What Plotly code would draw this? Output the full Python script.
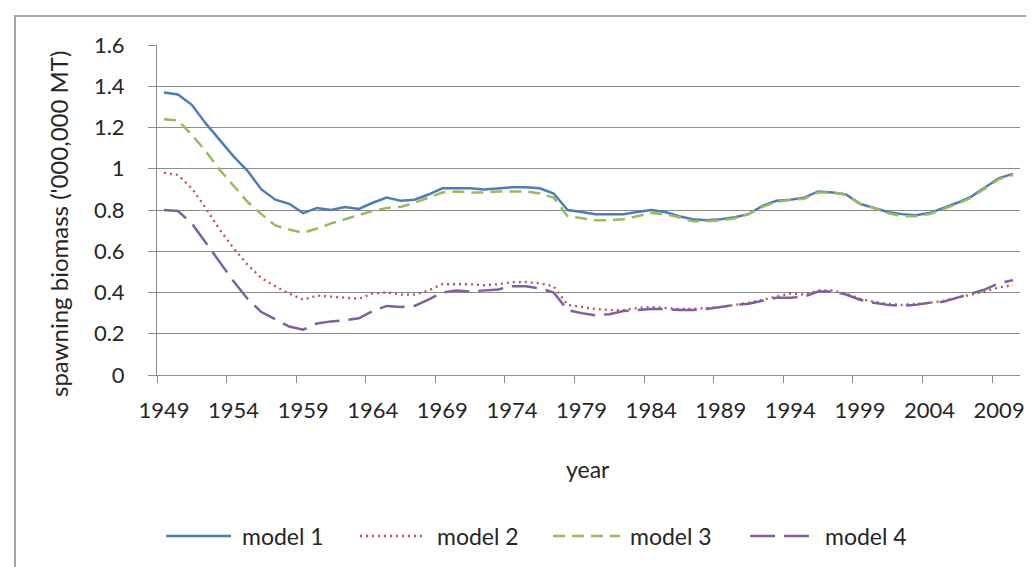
import plotly.graph_objects as go

years = list(range(1949, 2011))

model1 = [1.37, 1.36, 1.31, 1.22, 1.14, 1.06, 0.99, 0.90, 0.85, 0.83,
          0.785, 0.81, 0.80, 0.815, 0.805, 0.835, 0.86, 0.845, 0.85, 0.875,
          0.905, 0.905, 0.905, 0.90, 0.905, 0.91, 0.91, 0.905, 0.88, 0.80,
          0.79, 0.78, 0.78, 0.78, 0.79, 0.80, 0.79, 0.77, 0.755, 0.75,
          0.755, 0.765, 0.78, 0.82, 0.845, 0.85, 0.86, 0.89, 0.885, 0.875,
          0.83, 0.81, 0.79, 0.78, 0.775, 0.785, 0.81, 0.835, 0.865, 0.91,
          0.955, 0.975]

model2 = [0.98, 0.97, 0.905, 0.81, 0.705, 0.615, 0.535, 0.47, 0.43, 0.395,
          0.365, 0.385, 0.38, 0.375, 0.37, 0.395, 0.40, 0.39, 0.39, 0.41,
          0.44, 0.44, 0.44, 0.435, 0.44, 0.45, 0.45, 0.445, 0.43, 0.34,
          0.33, 0.32, 0.315, 0.315, 0.325, 0.33, 0.325, 0.32, 0.32, 0.325,
          0.33, 0.34, 0.35, 0.365, 0.38, 0.395, 0.39, 0.41, 0.41, 0.395,
          0.37, 0.355, 0.345, 0.34, 0.345, 0.35, 0.36, 0.375, 0.39, 0.405,
          0.425, 0.435]

model3 = [1.24, 1.235, 1.165, 1.085, 0.995, 0.92, 0.84, 0.78, 0.725, 0.705,
          0.69, 0.71, 0.735, 0.755, 0.775, 0.795, 0.81, 0.815, 0.835, 0.86,
          0.885, 0.89, 0.885, 0.885, 0.89, 0.89, 0.89, 0.88, 0.86, 0.77,
          0.76, 0.75, 0.75, 0.755, 0.77, 0.785, 0.78, 0.765, 0.745, 0.745,
          0.75, 0.76, 0.78, 0.815, 0.84, 0.85, 0.855, 0.885, 0.885, 0.875,
          0.83, 0.81, 0.785, 0.77, 0.77, 0.78, 0.805, 0.83, 0.86, 0.905,
          0.95, 0.97]

model4 = [0.80, 0.795, 0.735, 0.64, 0.55, 0.455, 0.37, 0.305, 0.27, 0.235,
          0.22, 0.25, 0.26, 0.265, 0.275, 0.31, 0.335, 0.33, 0.335, 0.365,
          0.40, 0.41, 0.405, 0.41, 0.415, 0.43, 0.43, 0.42, 0.40, 0.315,
          0.30, 0.29, 0.295, 0.31, 0.315, 0.32, 0.32, 0.315, 0.315, 0.32,
          0.33, 0.34, 0.345, 0.36, 0.375, 0.375, 0.38, 0.405, 0.405, 0.39,
          0.365, 0.35, 0.34, 0.335, 0.34, 0.35, 0.355, 0.375, 0.395, 0.415,
          0.445, 0.46]

series_names = ["model 1", "model 2", "model 3", "model 4"]
y_ticks = [0, 0.2, 0.4, 0.6, 0.8, 1.0, 1.2, 1.4, 1.6]

FONT = "Lato, 'Liberation Sans', sans-serif"
TXT = "#262626"
GRID = "#8c8c8c"

cats = [str(y) for y in years]
styles = [
    dict(color="#4A7EBB", width=2.5, dash="solid"),
    dict(color="#C0504D", width=2.3, dash="2px,4px"),
    dict(color="#9BBB59", width=2.5, dash="12px,7px"),
    dict(color="#7D60A0", width=2.5, dash="25px,9px"),
]

L, R, T, B = 149, 1012, 37, 367
W, H = 1034, 567
pw, ph = R - L, B - T


def px(xp):
    return (xp - L) / pw


def py(yp):
    return (B - yp) / ph


fig = go.Figure()
for name, vals, st in zip(series_names, [model1, model2, model3, model4], styles):
    fig.add_trace(go.Scatter(x=cats, y=vals, mode="lines", name=name,
                             showlegend=False,
                             line=dict(color=st["color"], width=st["width"],
                                       dash=st["dash"])))

# legend drawn as line samples + text (long samples as in the reference)
leg_y = 528
leg_items = [(158, 223, 232), (352, 415, 427), (545, 612, 620), (742, 808, 815)]
shapes = [
    dict(type="rect", xref="paper", yref="paper",
         x0=px(7), x1=px(1045), y0=py(590), y1=py(8),
         line=dict(color="#a6a6a6", width=2), fillcolor="rgba(0,0,0,0)",
         layer="below"),
]
annotations = [
    dict(text="spawning biomass ('000,000 MT)", textangle=-90,
         xref="paper", yref="paper", x=px(50), y=py(216),
         xanchor="center", yanchor="middle", showarrow=False,
         font=dict(family=FONT, size=24, color=TXT)),
    dict(text="year", xref="paper", yref="paper", x=px(580), y=py(461),
         xanchor="center", yanchor="middle", showarrow=False,
         font=dict(family=FONT, size=23, color=TXT)),
]
for name, st, (x0, x1, tx) in zip(series_names, styles, leg_items):
    shapes.append(dict(type="line", xref="paper", yref="paper",
                       x0=px(x0), x1=px(x1), y0=py(leg_y), y1=py(leg_y),
                       line=dict(color=st["color"], width=st["width"],
                                 dash=st["dash"])))
    annotations.append(dict(text=name, xref="paper", yref="paper",
                            x=px(tx), y=py(leg_y), xanchor="left",
                            yanchor="middle", showarrow=False,
                            font=dict(family=FONT, size=23, color=TXT)))

fig.update_layout(
    width=W, height=H,
    margin=dict(l=L, r=W - R, t=T, b=H - B, autoexpand=False),
    paper_bgcolor="white", plot_bgcolor="white",
    font=dict(family=FONT, size=22, color=TXT),
    showlegend=False,
    xaxis=dict(type="category", range=[-0.5, len(cats) - 0.5],
               dtick=5, tickson="boundaries", ticks="outside", ticklen=7,
               tickangle=0,
               tickcolor=GRID, showline=True, linecolor=GRID, linewidth=1,
               showgrid=False, zeroline=False, ticklabelstandoff=16,
               tickfont=dict(family=FONT, size=22, color=TXT)),
    yaxis=dict(range=[0, 1.6], tickvals=y_ticks,
               ticks="outside", ticklen=8, tickcolor=GRID,
               showline=True, linecolor=GRID, linewidth=1,
               showgrid=True, gridcolor=GRID, gridwidth=1.2, zeroline=False,
               ticklabelstandoff=19,
               tickfont=dict(family=FONT, size=22, color=TXT)),
    annotations=annotations,
    shapes=shapes,
)

fig.write_html("out.html")
